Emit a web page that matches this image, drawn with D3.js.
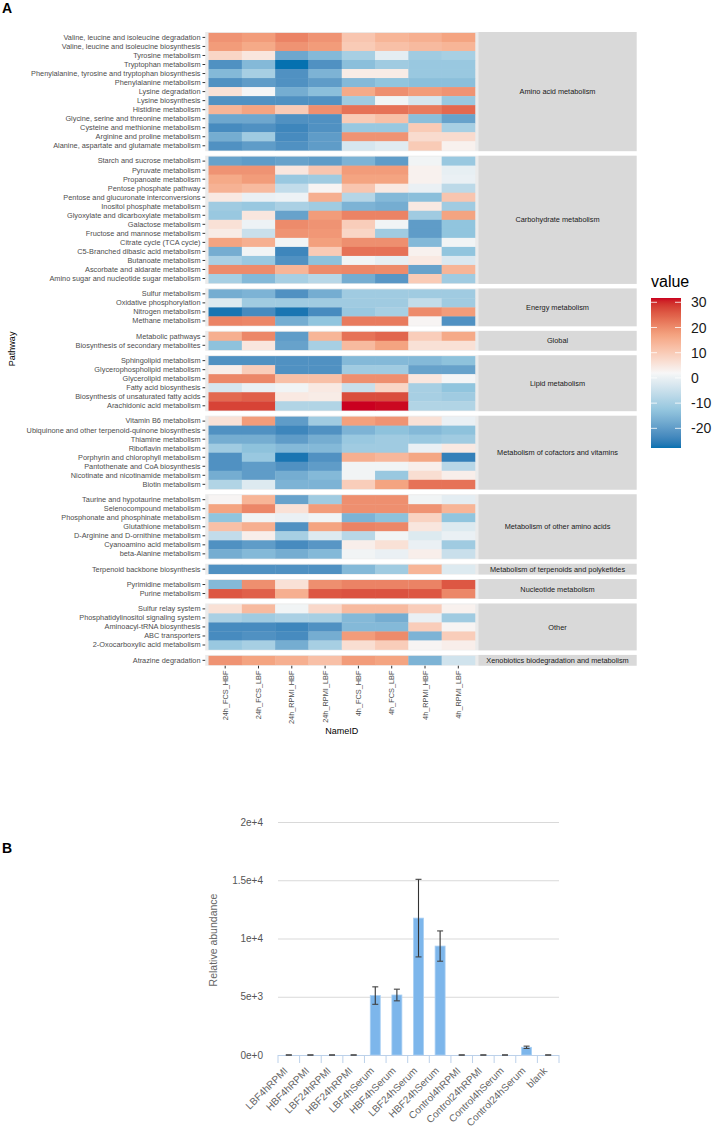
<!DOCTYPE html>
<html>
<head>
<meta charset="utf-8">
<script src="https://cdn.jsdelivr.net/npm/d3@7"></script>
<style>
  body { margin: 0; background: #fff; }
  text { font-family: "Liberation Sans", Arial, sans-serif; }
</style>
</head>
<body>
<script>
// ---- panel A data ----
const sampleIDs = ["24h_FCS_HBF", "24h_FCS_LBF", "24h_RPMI_HBF", "24h_RPMI_LBF",
  "4h_FCS_HBF", "4h_FCS_LBF", "4h_RPMI_HBF", "4h_RPMI_LBF"];

const categories = ["Amino acid metabolism", "Carbohydrate metabolism", "Energy metabolism",
  "Global", "Lipid metabolism", "Metabolism of cofactors and vitamins",
  "Metabolism of other amino acids", "Metabolism of terpenoids and polyketides",
  "Nucleotide metabolism", "Other", "Xenobiotics biodegradation and metabolism"];
const categorySizes = [13, 14, 4, 2, 6, 8, 7, 1, 2, 5, 1];

const pathways = [
  "Valine, leucine and isoleucine degradation", "Valine, leucine and isoleucine biosynthesis",
  "Tyrosine metabolism", "Tryptophan metabolism",
  "Phenylalanine, tyrosine and tryptophan biosynthesis", "Phenylalanine metabolism",
  "Lysine degradation", "Lysine biosynthesis", "Histidine metabolism",
  "Glycine, serine and threonine metabolism", "Cysteine and methionine metabolism",
  "Arginine and proline metabolism", "Alanine, aspartate and glutamate metabolism",
  "Starch and sucrose metabolism", "Pyruvate metabolism", "Propanoate metabolism",
  "Pentose phosphate pathway", "Pentose and glucuronate interconversions",
  "Inositol phosphate metabolism", "Glyoxylate and dicarboxylate metabolism",
  "Galactose metabolism", "Fructose and mannose metabolism", "Citrate cycle (TCA cycle)",
  "C5-Branched dibasic acid metabolism", "Butanoate metabolism",
  "Ascorbate and aldarate metabolism", "Amino sugar and nucleotide sugar metabolism",
  "Sulfur metabolism", "Oxidative phosphorylation", "Nitrogen metabolism", "Methane metabolism",
  "Metabolic pathways", "Biosynthesis of secondary metabolites",
  "Sphingolipid metabolism", "Glycerophospholipid metabolism", "Glycerolipid metabolism",
  "Fatty acid biosynthesis", "Biosynthesis of unsaturated fatty acids", "Arachidonic acid metabolism",
  "Vitamin B6 metabolism", "Ubiquinone and other terpenoid-quinone biosynthesis",
  "Thiamine metabolism", "Riboflavin metabolism", "Porphyrin and chlorophyll metabolism",
  "Pantothenate and CoA biosynthesis", "Nicotinate and nicotinamide metabolism", "Biotin metabolism",
  "Taurine and hypotaurine metabolism", "Selenocompound metabolism",
  "Phosphonate and phosphinate metabolism", "Glutathione metabolism",
  "D-Arginine and D-ornithine metabolism", "Cyanoamino acid metabolism", "beta-Alanine metabolism",
  "Terpenoid backbone biosynthesis",
  "Pyrimidine metabolism", "Purine metabolism",
  "Sulfur relay system", "Phosphatidylinositol signaling system", "Aminoacyl-tRNA biosynthesis",
  "ABC transporters", "2-Oxocarboxylic acid metabolism",
  "Atrazine degradation"
];

// one row per pathway, one value per sample
const values = [
  [19, 18, 21, 19, 11, 14, 15, 17],
  [18, 16, 19, 18, 10, 12, 13, 14],
  [8, 5, -18, -15, -10, -1, -11, -10],
  [-22, -15, -27.8, -22, -14, -11, -12, -12],
  [-15, -10, -22, -16, 4, 4, -12, -12],
  [-22, -20, -22, -20, -15, -13, -14, -14],
  [6, 1.5, -17, -14, 16, 19.5, 18, 19],
  [-22, -22, -22, -22, -11, 1, -3, -12],
  [14, 17, 10, 19.5, 23, 23, 22, 24],
  [-18, -18, -22, -22, 10, 12, -14, -19],
  [-23, -22, -24, -22, -12, -12, 10, -10],
  [-17, -11, -23, -20, 19, 19, 7, 7],
  [-22, -20, -22, -20, -3, -1.5, 10, 3],
  [-19, -20, -19, -20, -16, -20, 1, -12],
  [19, 19, 5, 11, 18, 18, 3, -0.5],
  [16, 18, -12, -11, 17, 17, 3, 0],
  [14.5, 13, -6, 2.5, 11, 4.5, 0, -7],
  [4.5, 0, 0.5, 15, -8, -15, -14, 11],
  [-11, -12, -9.5, -11, -16, -17, 4.5, -11],
  [-12, 5, -19, 18, 21, 21, -11, 17],
  [6, 0.5, 20, 19, 9.5, 1, -20, -13],
  [4, -5, 19, 18.5, 8, -11, -20, -13],
  [17, 15, 1, 17.5, 19.5, 19.5, -15, 1],
  [-17, 1, -24, 10, 23, 23, 3, -13],
  [-9.5, -12, -22, -13.5, 1, -0.5, 4.5, -2.5],
  [20, 20, 14, 20, 20.5, 20, -19, 14],
  [-10, -15, -10, -7.5, -17, -21, 10, -11],
  [-17, -16, -22, -17, -11, -11, -11, -11],
  [-2, -11, -11, -11, -11, -11, -6, -11],
  [-27, -23, -27, -23, -12, -10, 20, 18],
  [21, 20.5, -17, -13, 22, 22, 2.5, -22],
  [15, 20.5, -20, 14, 23, 24.5, 9.5, 16],
  [-13.5, 5, -19, -10, 13, 17, 6, 6],
  [-22, -22, -22, -22, -15, -15, -15, -13.5],
  [3.5, 9.5, -22, -22, -11, -11, -19, -19],
  [20.5, 20.5, 12, 12, 19.5, 19.5, 5, 1.5],
  [-3, 0, 1, 4.5, -5, 8, -10, -13],
  [24, 25, 4.5, 4, 27, 27, -10, -11],
  [28, 28, -8.5, -8.5, 31.7, 31.5, -8.5, -8.5],
  [6, 18, -20, -11, 17.5, 19, 6, 0],
  [-22, -22, -24, -22, -16, -13.5, -15, -13.5],
  [-17, -17, -20, -17, -12, -11, -12, -11],
  [-11, -13.5, -15, -15, -11, -11, 0, 4.5],
  [-22, -12, -27, -22, 15, 13.5, 16.5, -25],
  [-22, -20, -22, -20, 1, 1, 3.5, -7.5],
  [-17, -20, -17, -15, 1, -12, 6.5, 3.5],
  [-8.5, -2, -16, -16, 9.5, 17, 23, 23],
  [2.5, 14, -19, -11, 19.5, 19.5, 1, -1],
  [17, 20.5, 6, 18, 19.5, 19.5, 19, 14],
  [-13, 1, 0, 1, -16, -13.5, 8.5, -13],
  [12, 15, -22, 17, 21, 20.5, 5, -2],
  [-6, 3.5, -10, -2, -7.5, 1, -2, 0],
  [-22, -20, -23, -21, 3.5, 6, 0, -11],
  [-17, -15, -17, -15, 1, 0, 3.5, -5],
  [-22, -22, -22, -22, -15, -11, 14, -2],
  [-15, 19.5, 6, 19.5, 21, 21, 21, 26],
  [26, 25, 15, 26, 26.5, 26.5, 26, 20.5],
  [6, 13, 1, 7.5, 13, 13, 9.5, 3],
  [-9.5, -11, -9.5, -10, -15, -17, 0, -11],
  [-23, -23, -24, -22, -15, -15, 9.5, 2.5],
  [-23, -22, -23, -17, 18, 20, -16, 9.5],
  [-12, -10, -17, -10, 6.5, 9.5, 2.5, 3.5],
  [19, 17, 15, 12, 18, 17, -16, -4]
];
const legendTicks = [-20, -10, 0, 10, 20, 30];

// ---- panel B data ----
const barSamples = ["LBF4hRPMI", "HBF4hRPMI", "LBF24hRPMI", "HBF24hRPMI", "LBF4hSerum", "HBF4hSerum",
  "LBF24hSerum", "HBF24hSerum", "Control4hRPMI", "Control24hRPMI", "Control4hSerum",
  "Control24hSerum", "blank"];
const barMeans = [0, 0, 0, 0, 5100, 5150, 11750, 9350, 0, 0, 0, 660, 0];
const barErrors = [0, 0, 0, 0, 750, 500, 3330, 1300, 0, 0, 0, 100, 0];
const barTicks = [0, 5000, 10000, 15000, 20000];

const svg = d3.select("body").append("svg").attr("width", 714).attr("height", 1133);

// ================= Panel A: heatmap =================
const hm = { left: 205.2, right: 478.3, top: 32, unit: 9.03, gap: 4.5, stripRight: 636.7 };

const allVals = values.flat();
const [vmin, vmax] = d3.extent(allVals);
const palette = ["#0571B0", "#92C5DE", "#F7F7F7", "#F4A582", "#CA0020"];
const color = d3.scaleLinear()
  .domain(palette.map((d, i) => vmin + (vmax - vmin) * i / (palette.length - 1)))
  .range(palette)
  .interpolate(d3.interpolateLab);

const x = d3.scaleBand().domain(sampleIDs).range([hm.left, hm.right]).paddingInner(0).paddingOuter(0.1);

svg.append("text").attr("x", 2).attr("y", 13).attr("font-size", 14).attr("font-weight", "bold")
  .attr("fill", "#000").text("A");

let yCursor = hm.top;
let rowStart = 0;
categories.forEach((cat, ci) => {
  const n = categorySizes[ci];
  const rows = pathways.slice(rowStart, rowStart + n);
  const h = (n + 0.2) * hm.unit;
  const y = d3.scaleBand().domain(rows).range([yCursor, yCursor + h]).paddingInner(0).paddingOuter(0.1);
  const g = svg.append("g");

  g.append("rect").attr("x", hm.left).attr("y", yCursor)
    .attr("width", hm.right - hm.left).attr("height", h).attr("fill", "#EBEBEB");

  rows.forEach((r, ri) => {
    g.selectAll(null).data(values[rowStart + ri]).enter().append("rect")
      .attr("x", (d, i) => x(sampleIDs[i]))
      .attr("y", y(r))
      .attr("width", x.bandwidth() + 0.3)
      .attr("height", y.bandwidth() + 0.3)
      .attr("fill", d => color(d));
  });

  const ax = g.append("g").attr("transform", `translate(${hm.left},0)`)
    .call(d3.axisLeft(y).tickSize(2.7).tickPadding(2));
  ax.select(".domain").remove();
  ax.selectAll("line").attr("stroke", "#333");
  ax.selectAll("text").attr("font-size", 7.35).attr("fill", "#4D4D4D")
    .attr("font-family", "Liberation Sans, Arial, sans-serif");

  // strip
  g.append("rect").attr("x", hm.right).attr("y", yCursor)
    .attr("width", hm.stripRight - hm.right).attr("height", h).attr("fill", "#D9D9D9");
  g.append("text").attr("x", (hm.right + hm.stripRight) / 2).attr("y", yCursor + h / 2)
    .attr("dy", "0.35em").attr("text-anchor", "middle").attr("font-size", 7.35)
    .attr("fill", "#1A1A1A").text(cat);

  yCursor += h + hm.gap;
  rowStart += n;
});
const hmBottom = yCursor - hm.gap;

const xAx = svg.append("g").attr("transform", `translate(0,${hmBottom})`)
  .call(d3.axisBottom(x).tickSize(2.7));
xAx.select(".domain").remove();
xAx.selectAll("line").attr("stroke", "#333");
xAx.selectAll("text").attr("font-size", 7.35).attr("fill", "#4D4D4D")
  .attr("font-family", "Liberation Sans, Arial, sans-serif")
  .attr("transform", "rotate(-90)").attr("text-anchor", "end")
  .attr("x", -4.8).attr("y", 0).attr("dy", "0.35em");

svg.append("text").attr("x", (hm.left + hm.right) / 2).attr("y", 734).attr("text-anchor", "middle")
  .attr("font-size", 9).attr("fill", "#000").text("NameID");
svg.append("text").attr("transform", `translate(15,${(hm.top + hmBottom) / 2}) rotate(-90)`)
  .attr("text-anchor", "middle").attr("font-size", 9).attr("fill", "#000").text("Pathway");

// legend
const leg = { x: 651, w: 30, top: 298, bottom: 448 };
const ly = d3.scaleLinear().domain([vmin, vmax]).range([leg.bottom, leg.top]);
const grad = svg.append("defs").append("linearGradient").attr("id", "cbar")
  .attr("x1", 0).attr("x2", 0).attr("y1", 1).attr("y2", 0);
d3.range(0, 1.0001, 0.02).forEach(t => {
  grad.append("stop").attr("offset", t).attr("stop-color", color(vmin + t * (vmax - vmin)));
});
svg.append("rect").attr("x", leg.x).attr("y", leg.top).attr("width", leg.w)
  .attr("height", leg.bottom - leg.top).attr("fill", "url(#cbar)");
svg.append("text").attr("x", leg.x).attr("y", 287).attr("font-size", 16).attr("fill", "#000").text("value");
legendTicks.forEach(t => {
  const yy = ly(t);
  svg.append("line").attr("x1", leg.x).attr("x2", leg.x + 6).attr("y1", yy).attr("y2", yy)
    .attr("stroke", "#fff").attr("stroke-opacity", 0.8);
  svg.append("line").attr("x1", leg.x + leg.w - 6).attr("x2", leg.x + leg.w).attr("y1", yy).attr("y2", yy)
    .attr("stroke", "#fff").attr("stroke-opacity", 0.8);
  svg.append("text").attr("x", 691).attr("y", yy).attr("dy", "0.36em").attr("font-size", 14)
    .attr("fill", "#1A1A1A").text(t);
});

// ================= Panel B: bar chart =================
svg.append("text").attr("x", 2).attr("y", 853).attr("font-size", 14).attr("font-weight", "bold")
  .attr("fill", "#000").text("B");

const bx = d3.scaleBand().domain(barSamples).range([278, 559]);
const by = d3.scaleLinear().domain([0, 20000]).range([1055, 822]);
const fmt = d3.format(".2~e");

const yAx = svg.append("g").attr("transform", "translate(278,0)")
  .call(d3.axisLeft(by).tickValues(barTicks).tickSize(-(559 - 278)).tickPadding(15).tickFormat(fmt));
yAx.select(".domain").remove();
yAx.selectAll("line").attr("stroke", "#D9D9D9").attr("stroke-width", 1);
yAx.selectAll("text").attr("font-size", 10).attr("fill", "#555")
  .attr("font-family", "DejaVu Sans, sans-serif");

svg.append("text").attr("transform", "translate(217,940) rotate(-90)").attr("text-anchor", "middle")
  .attr("font-size", 10.5).attr("fill", "#666").attr("font-family", "DejaVu Sans, sans-serif")
  .text("Relative abundance");

const barW = 10;
svg.selectAll(".bar").data(barSamples).enter().append("rect").attr("class", "bar")
  .attr("x", d => bx(d) + bx.bandwidth() / 2 - barW / 2)
  .attr("y", (d, i) => by(barMeans[i]))
  .attr("width", barW)
  .attr("height", (d, i) => by(0) - by(barMeans[i]))
  .attr("fill", "#7DB6EB").attr("stroke", "#A9CFF3").attr("stroke-width", 0.8);

// x axis line and category separators
svg.append("line").attr("x1", 278).attr("x2", 559).attr("y1", 1055.5).attr("y2", 1055.5)
  .attr("stroke", "#BCD1EA").attr("stroke-width", 1.2);
svg.selectAll(".sep").data(d3.range(barSamples.length + 1)).enter().append("line")
  .attr("x1", i => 278 + i * bx.step()).attr("x2", i => 278 + i * bx.step())
  .attr("y1", 1055).attr("y2", 1063).attr("stroke", "#BCD1EA").attr("stroke-width", 1);

// error bars
barSamples.forEach((s, i) => {
  const cx = bx(s) + bx.bandwidth() / 2;
  const lo = by(barMeans[i] - barErrors[i]);
  const hi = by(barMeans[i] + barErrors[i]);
  svg.append("line").attr("x1", cx).attr("x2", cx).attr("y1", lo).attr("y2", hi)
    .attr("stroke", "#333").attr("stroke-width", 1.1);
  [lo, hi].forEach(yy => {
    svg.append("line").attr("x1", cx - 3).attr("x2", cx + 3).attr("y1", yy).attr("y2", yy)
      .attr("stroke", "#444").attr("stroke-width", 1.1);
  });
});

svg.selectAll(".blab").data(barSamples).enter().append("text").attr("class", "blab")
  .attr("transform", d => `translate(${bx(d) + bx.bandwidth() / 2 - 3},1069) rotate(-45)`)
  .attr("text-anchor", "end").attr("dy", "0.35em")
  .attr("font-size", 10).attr("fill", "#666").attr("font-family", "DejaVu Sans, sans-serif")
  .text(d => d);
</script>
</body>
</html>
